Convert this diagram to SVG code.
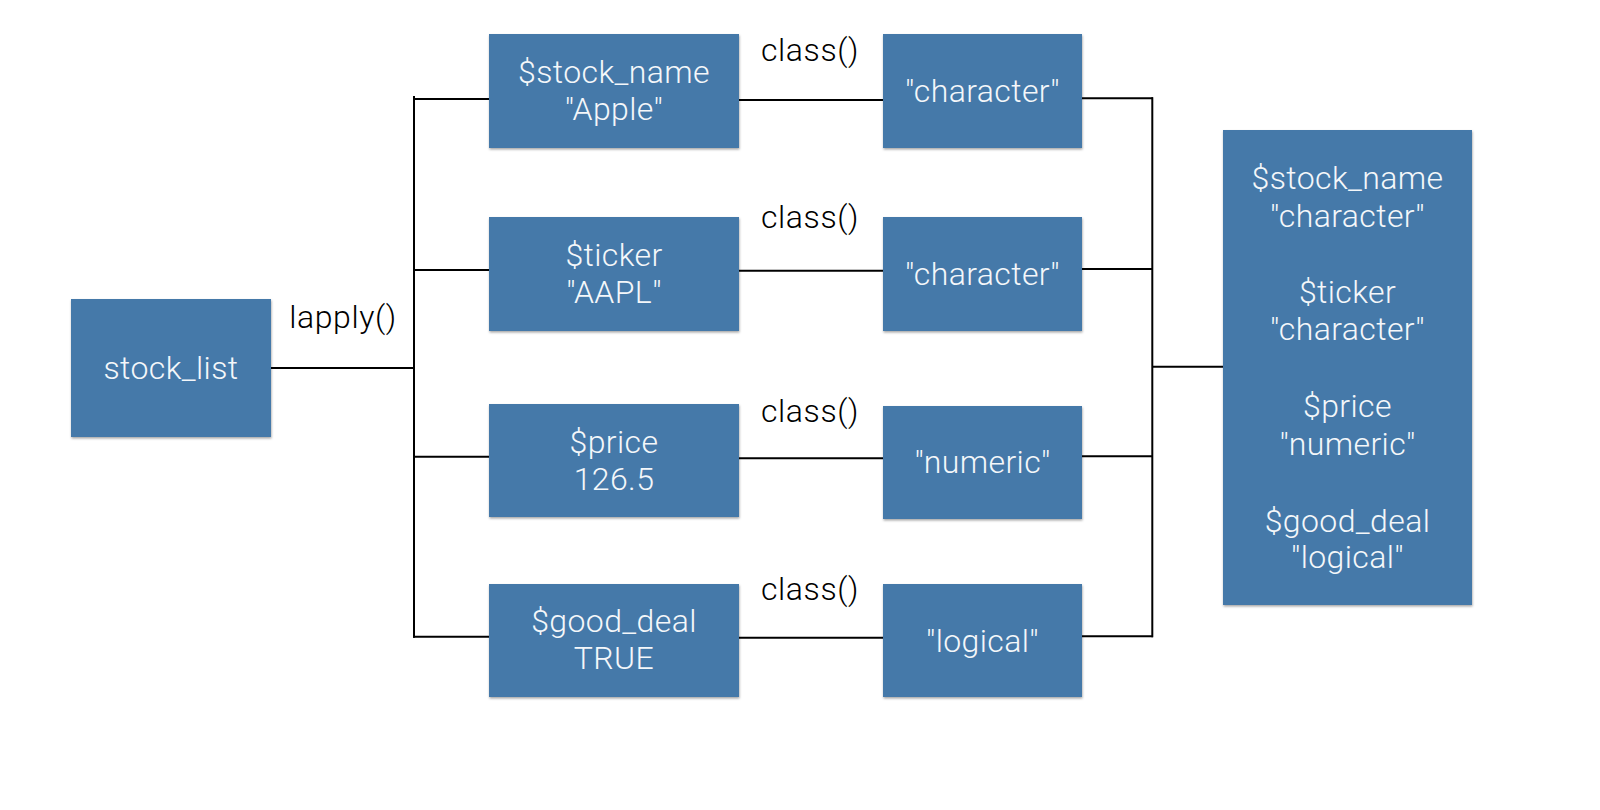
<svg xmlns="http://www.w3.org/2000/svg" width="1600" height="810" viewBox="0 0 1600 810">
  <defs>
    <filter id="shadow" x="-5%" y="-5%" width="110%" height="115%">
      <feDropShadow dx="0.5" dy="1.5" stdDeviation="1" flood-color="#000" flood-opacity="0.35"/>
    </filter>
  </defs>
  <style>
    .box { fill: #4579A9; filter: url(#shadow); }
    .t { font-family: "Helvetica Neue", Roboto, "Liberation Sans", Arial, sans-serif; font-weight: 300; font-size: 32px; letter-spacing: 0.4px; fill: #F4F7FA; text-anchor: middle; }
    .lbl { font-family: "Helvetica Neue", Roboto, "Liberation Sans", Arial, sans-serif; font-weight: 300; font-size: 32px; letter-spacing: 0.6px; fill: #000; text-anchor: middle; }
    .c { stroke: #000; stroke-width: 2; fill: none; }
  </style>
  <rect width="1600" height="810" fill="#fff"/>

  <g id="connectors">
    <line class="c" x1="271" y1="368" x2="414" y2="368"/>
    <line class="c" x1="414" y1="96" x2="414" y2="637.7"/>
    <line class="c" x1="414" y1="99" x2="489" y2="99"/>
    <line class="c" x1="414" y1="270" x2="489" y2="270"/>
    <line class="c" x1="414" y1="456.7" x2="489" y2="456.7"/>
    <line class="c" x1="413" y1="636.7" x2="489" y2="636.7"/>
    <line class="c" x1="739" y1="100" x2="883" y2="100"/>
    <line class="c" x1="739" y1="270.7" x2="883" y2="270.7"/>
    <line class="c" x1="739" y1="458.3" x2="883" y2="458.3"/>
    <line class="c" x1="739" y1="637.7" x2="883" y2="637.7"/>
    <line class="c" x1="1082" y1="98.3" x2="1153" y2="98.3"/>
    <line class="c" x1="1082" y1="269" x2="1152" y2="269"/>
    <line class="c" x1="1082" y1="456.3" x2="1152" y2="456.3"/>
    <line class="c" x1="1082" y1="636.3" x2="1153" y2="636.3"/>
    <line class="c" x1="1152.3" y1="97.3" x2="1152.3" y2="637.3"/>
    <line class="c" x1="1152" y1="366.7" x2="1223" y2="366.7"/>
    <text class="lbl" x="343" y="328">lapply()</text>
    <text class="lbl" x="810" y="60.7">class()</text>
    <text class="lbl" x="810" y="228.3">class()</text>
    <text class="lbl" x="810" y="421.7">class()</text>
    <text class="lbl" x="810" y="600">class()</text>
  </g>

  <g id="stock_list">
    <rect class="box" x="71" y="299" width="200" height="138"/>
    <text class="t" x="171" y="379">stock_list</text>
  </g>

  <g id="stock_name">
    <rect class="box" x="489" y="34" width="250" height="114"/>
    <text class="t" x="614" y="82.7">$stock_name</text>
    <text class="t" x="614" y="120">"Apple"</text>
  </g>
  <g id="ticker">
    <rect class="box" x="489" y="217" width="250" height="114"/>
    <text class="t" x="614" y="266">$ticker</text>
    <text class="t" x="614" y="303">"AAPL"</text>
  </g>
  <g id="price">
    <rect class="box" x="489" y="404" width="250" height="113"/>
    <text class="t" x="614" y="452.7">$price</text>
    <text class="t" x="614" y="490">126.5</text>
  </g>
  <g id="good_deal">
    <rect class="box" x="489" y="584" width="250" height="113"/>
    <text class="t" x="614" y="631.7">$good_deal</text>
    <text class="t" x="614" y="669.3">TRUE</text>
  </g>

  <g id="class_stock_name">
    <rect class="box" x="883" y="34" width="199" height="114"/>
    <text class="t" x="982.5" y="101.7">"character"</text>
  </g>
  <g id="class_ticker">
    <rect class="box" x="883" y="217" width="199" height="114"/>
    <text class="t" x="982.5" y="285">"character"</text>
  </g>
  <g id="class_price">
    <rect class="box" x="883" y="406" width="199" height="113"/>
    <text class="t" x="982.5" y="473.3">"numeric"</text>
  </g>
  <g id="class_good_deal">
    <rect class="box" x="883" y="584" width="199" height="113"/>
    <text class="t" x="982.5" y="651.7">"logical"</text>
  </g>

  <g id="result">
    <rect class="box" x="1223" y="130" width="249" height="475"/>
    <text class="t" x="1347.5" y="189">$stock_name</text>
    <text class="t" x="1347.5" y="226.7">"character"</text>
    <text class="t" x="1347.5" y="302.7">$ticker</text>
    <text class="t" x="1347.5" y="340">"character"</text>
    <text class="t" x="1347.5" y="416.7">$price</text>
    <text class="t" x="1347.5" y="455">"numeric"</text>
    <text class="t" x="1347.5" y="531.7">$good_deal</text>
    <text class="t" x="1347.5" y="568">"logical"</text>
  </g>
</svg>
